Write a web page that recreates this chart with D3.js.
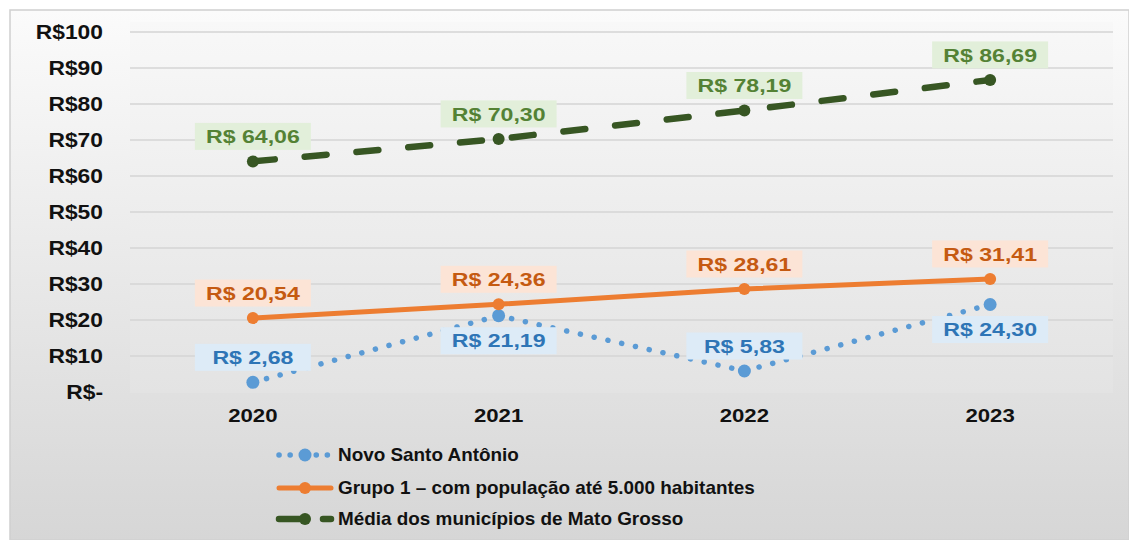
<!DOCTYPE html>
<html>
<head>
<meta charset="utf-8">
<script src="https://cdn.jsdelivr.net/npm/d3@7"></script>
<style>
  body { margin: 0; background: #fff; }
  svg text { font-family: "Liberation Sans", Arial, sans-serif; font-weight: bold; }
</style>
</head>
<body>
<svg id="chart" width="1129" height="540"></svg>
<script>
// DATA
const years = ["2020", "2021", "2022", "2023"];
const novoSantoAntonio = [2.68, 21.19, 5.83, 24.30];
const grupo1 = [20.54, 24.36, 28.61, 31.41];
const mediaMT = [64.06, 70.30, 78.19, 86.69];
const yTicks = [0, 10, 20, 30, 40, 50, 60, 70, 80, 90, 100];
const seriesNames = [
  "Novo Santo Antônio",
  "Grupo 1 – com população até 5.000 habitantes",
  "Média dos municípios de Mato Grosso"
];
// label side per point: -1 above, 1 below
const blueLabelSide = [-1, 1, -1, 1];

const svg = d3.select("#chart");
const W = 1129, H = 540;
const plot = { left: 130, right: 1113, top: 32, bottom: 392 };

// BACKGROUND GRADIENTS
const defs = svg.append("defs");
const g1 = defs.append("linearGradient").attr("id", "bgOuter")
  .attr("x1", 0).attr("y1", 0).attr("x2", 0).attr("y2", 1);
g1.append("stop").attr("offset", "0%").attr("stop-color", "#fbfbfb");
g1.append("stop").attr("offset", "100%").attr("stop-color", "#d6d6d6");
const g2 = defs.append("linearGradient").attr("id", "bgPlot")
  .attr("x1", 0).attr("y1", 0).attr("x2", 0).attr("y2", 1);
g2.append("stop").attr("offset", "0%").attr("stop-color", "#f8f8f8");
g2.append("stop").attr("offset", "100%").attr("stop-color", "#e3e3e3");

svg.append("rect").attr("x", 10).attr("y", 10).attr("width", W - 10).attr("height", H - 10)
  .attr("fill", "url(#bgOuter)").attr("stroke", "#d0d0d0").attr("stroke-width", 1.5);
svg.append("rect").attr("x", plot.left).attr("y", plot.top - 10)
  .attr("width", plot.right - plot.left).attr("height", plot.bottom - plot.top + 11)
  .attr("fill", "url(#bgPlot)");

// SCALES
const x = d3.scaleBand().domain(years).range([plot.left, plot.right]);
const cx = d => x(d) + x.bandwidth() / 2;
const y = d3.scaleLinear().domain([0, 100]).range([plot.bottom, plot.top]);

// GRIDLINES
svg.append("g").selectAll("line").data(yTicks.slice(1)).join("line")
  .attr("x1", plot.left).attr("x2", plot.right)
  .attr("y1", d => y(d)).attr("y2", d => y(d))
  .attr("stroke", "#d4d4d4").attr("stroke-width", 1.5);

// AXES (the reference text is horizontally stretched)
const yAxis = d3.axisLeft(y).tickValues(yTicks).tickSize(0).tickPadding(0)
  .tickFormat(d => d === 0 ? "R$-" : "R$" + d);
svg.append("g").attr("transform", "translate(103,0)").call(yAxis)
  .call(g => g.select(".domain").remove())
  .selectAll("text").attr("font-size", 19.5).attr("fill", "#111")
  .attr("transform", "scale(1.17,1)");

const xAxis = d3.axisBottom(x).tickSize(0).tickPadding(0);
svg.append("g").attr("transform", "translate(0,409)").call(xAxis)
  .call(g => g.select(".domain").remove())
  .selectAll("text").attr("font-size", 18.5).attr("fill", "#111")
  .attr("transform", "scale(1.2,1)");

// LINES
const line = d3.line().x((d, i) => cx(years[i])).y(d => y(d));
const series = [
  { data: novoSantoAntonio, color: "#5b9bd5", width: 5.5, dash: "0.1 14", r: 6.5,
    legendDash: "0.1 11 0.1 26 0.1 11",
    labelFill: "#ddebf7", labelColor: "#2e75b6", side: blueLabelSide },
  { data: grupo1, color: "#ed7d31", width: 5, dash: null, r: 6,
    legendDash: null,
    labelFill: "#fce4d6", labelColor: "#c55a11", side: [-1, -1, -1, -1] },
  { data: mediaMT, color: "#375623", width: 6.5, dash: "22 30", r: 6,
    legendDash: "26 18 8",
    labelFill: "#e2efda", labelColor: "#548235", side: [-1, -1, -1, -1] }
];

series.forEach(s => {
  svg.append("path").attr("d", line(s.data))
    .attr("fill", "none").attr("stroke", s.color).attr("stroke-width", s.width)
    .attr("stroke-linecap", "round")
    .attr("stroke-dasharray", s.dash);
  svg.append("g").selectAll("circle").data(s.data).join("circle")
    .attr("cx", (d, i) => cx(years[i])).attr("cy", d => y(d)).attr("r", s.r)
    .attr("fill", s.color);
});

// DATA LABELS
const fmt = v => "R$ " + v.toFixed(2).replace(".", ",");
series.forEach(s => {
  const lg = svg.append("g");
  s.data.forEach((v, i) => {
    const px = cx(years[i]);
    const py = y(v) + s.side[i] * 25;
    const bw = 116, bh = 27;
    lg.append("rect").attr("x", px - bw / 2).attr("y", py - bh / 2)
      .attr("width", bw).attr("height", bh).attr("fill", s.labelFill);
    lg.append("text").attr("transform", `translate(${px},${py}) scale(1.25,1)`)
      .attr("dy", "0.36em")
      .attr("text-anchor", "middle").attr("font-size", 18.5)
      .attr("fill", s.labelColor).text(fmt(v));
  });
});

// LEGEND
const legendRows = [455, 488, 519];
const leg = svg.append("g");
series.forEach((s, i) => {
  const ly = legendRows[i];
  leg.append("line").attr("x1", 279).attr("x2", 331).attr("y1", ly).attr("y2", ly)
    .attr("stroke", s.color).attr("stroke-width", s.width)
    .attr("stroke-linecap", "round")
    .attr("stroke-dasharray", s.legendDash);
  leg.append("circle").attr("cx", 305).attr("cy", ly).attr("r", s.r).attr("fill", s.color);
  leg.append("text").attr("transform", `translate(338,${ly}) scale(1.08,1)`)
    .attr("dy", "0.36em")
    .attr("font-size", 17.5).attr("fill", "#111").text(seriesNames[i]);
});
</script>
</body>
</html>
